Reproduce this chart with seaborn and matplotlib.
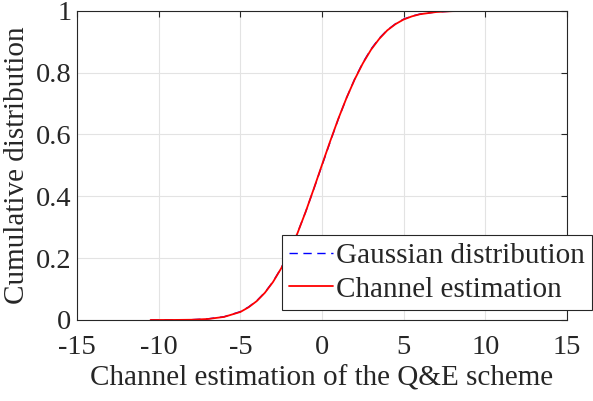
import pandas as pd
import matplotlib.pyplot as plt
import seaborn as sns

# values
x_vals = [-10.5, -9.0, -8.0, -7.0, -6.0, -5.0, -4.5, -4.0, -3.5, -3.0, -2.5, -2.0,
          -1.5, -1.0, -0.5, 0.0, 0.5, 1.0, 1.5, 2.0, 2.5, 3.0, 3.5, 4.0, 4.5,
          5.0, 5.5, 6.0, 7.0, 8.0, 9.0, 10.6]
gauss_cdf = [0.0, 0.0003, 0.001, 0.0036, 0.0105, 0.027, 0.042, 0.062, 0.089, 0.124,
             0.168, 0.221, 0.282, 0.350, 0.424, 0.500, 0.576, 0.650, 0.718, 0.779,
             0.832, 0.876, 0.911, 0.938, 0.958, 0.973, 0.983, 0.9895, 0.9964, 0.999,
             0.9997, 1.0]
chan_cdf = [0.0, 0.0002, 0.0008, 0.0032, 0.0100, 0.026, 0.041, 0.061, 0.088, 0.123,
            0.167, 0.220, 0.281, 0.350, 0.425, 0.502, 0.578, 0.651, 0.718, 0.778,
            0.830, 0.874, 0.909, 0.937, 0.957, 0.972, 0.982, 0.9890, 0.9962, 0.999,
            0.9997, 1.0]

x_ticks = [-15, -10, -5, 0, 5, 10, 15]
y_ticks = [0, 0.2, 0.4, 0.6, 0.8, 1]
y_labels = ["0", "0.2", "0.4", "0.6", "0.8", "1"]

sns.set_style("whitegrid")
plt.rcParams['font.family'] = ['Liberation Serif', 'DejaVu Serif']

df = pd.DataFrame({'x': x_vals, 'gauss': gauss_cdf, 'chan': chan_cdf})

fig = plt.figure(figsize=(5.93, 4.01), dpi=100)
ax = fig.add_axes([0.130, 0.202, 0.826, 0.771])

sns.lineplot(data=df, x='x', y='gauss', ax=ax, color='#0000ff', lw=1.0,
             label='Gaussian distribution')
ax.lines[-1].set_dashes([6, 4])
sns.lineplot(data=df, x='x', y='chan', ax=ax, color='#ff0000', lw=1.3,
             label='Channel estimation')

ax.set_xlim(-15, 15)
ax.set_ylim(0, 1)
ax.set_xticks(x_ticks)
ax.set_xticklabels([str(t) for t in x_ticks])
ax.set_yticks(y_ticks)
ax.set_yticklabels(y_labels)
ax.tick_params(direction='in', length=4, width=0.8, colors='#262626',
               labelsize=20.5, top=True, right=True)
ax.tick_params(axis='x', pad=11)
ax.tick_params(axis='y', pad=4)
ax.grid(True, color='#e3e3e3', lw=0.8)
for s in ax.spines.values():
    s.set_color('#262626')
    s.set_linewidth(0.8)

ax.set_xlabel('Channel estimation of the Q&E scheme', fontsize=21, color='#262626', labelpad=4)
ax.set_ylabel('Cumulative distribution', fontsize=21, color='#262626', labelpad=4)

leg = ax.legend(loc='lower right', bbox_to_anchor=(0.999, 0.227),
                bbox_transform=fig.transFigure, borderaxespad=0, fontsize=21,
                frameon=True, fancybox=False, framealpha=1, edgecolor='#262626',
                handlelength=1.5, handletextpad=0.12, borderpad=0.25, labelspacing=0.25)
leg.get_frame().set_linewidth(0.8)

fig.savefig('out.png', dpi=100)
